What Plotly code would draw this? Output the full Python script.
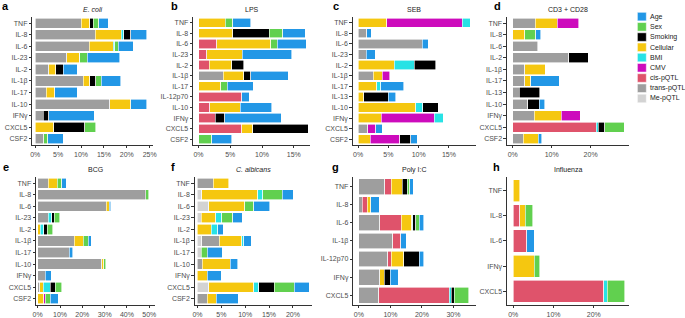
import plotly.graph_objects as go

W, H = 685, 318

FACTORS = ["Me-pQTL", "trans-pQTL", "cis-pQTL", "Cellular", "CMV", "BMI", "Smoking", "Sex", "Age"]
LEGEND_ORDER = ["Age", "Sex", "Smoking", "Cellular", "BMI", "CMV", "cis-pQTL", "trans-pQTL", "Me-pQTL"]
COLORS = {
    "Age": "#2297E6", "Sex": "#61D04F", "Smoking": "#000000", "Cellular": "#F5C710",
    "BMI": "#28E2E5", "CMV": "#CD0BBC", "cis-pQTL": "#DF536B", "trans-pQTL": "#9E9E9E",
    "Me-pQTL": "#D3D3D3",
}

# ---------------- data (percent variance explained) ----------------
ecoli_cats = ["TNF", "IL-8", "IL-6", "IL-23", "IL-2", "IL-1β", "IL-17", "IL-10", "IFNγ", "CXCL5", "CSF2"]
ecoli = {
    "trans-pQTL": [10.1, 13.1, 11.8, 6.9, 2.9, 10.5, 2.4, 16.3, 1.8, 0, 1.9],
    "Cellular":   [1.8, 5.7, 5.2, 2.7, 1.6, 1.4, 1.9, 4.6, 0, 4.0, 0],
    "BMI":        [0, 0.5, 0.4, 0.1, 0, 0, 0, 0, 0, 0, 0],
    "Smoking":    [0.8, 1.6, 0, 0, 1.6, 1.3, 0, 0, 1.1, 6.8, 0],
    "Sex":        [1.2, 0, 0.7, 1.7, 0, 1.2, 0, 0, 0, 2.4, 0.8],
    "Age":        [2.0, 3.4, 3.3, 7.1, 3.1, 4.3, 4.9, 3.5, 10.0, 0, 3.4],
}

lps_cats = ["TNF", "IL-8", "IL-6", "IL-23", "IL-2", "IL-1β", "IL-17", "IL-12p70", "IL-10", "IFNγ", "CXCL5", "CSF2"]
lps = {
    "trans-pQTL": [0, 0, 0, 0, 0, 3.9, 0, 0, 0, 0, 0, 0],
    "cis-pQTL":   [0, 0, 2.9, 1.3, 1.7, 0, 0, 6.8, 1.8, 2.6, 6.8, 0],
    "Cellular":   [4.2, 5.4, 8.5, 5.6, 3.5, 3.2, 3.5, 0, 4.8, 0, 1.7, 0],
    "Smoking":    [0, 5.7, 0, 0, 1.9, 1.1, 0, 0, 0, 1.5, 8.8, 0],
    "Sex":        [1.2, 2.2, 1.0, 0, 0, 0, 1.0, 0, 0, 0, 0, 2.1],
    "Age":        [2.8, 3.5, 4.6, 7.8, 0, 5.9, 4.1, 1.2, 4.9, 8.9, 0, 3.1],
}

seb_cats = ["TNF", "IL-8", "IL-6", "IL-23", "IL-2", "IL-1β", "IL-17", "IL-13", "IL-10", "IFNγ", "CXCL5", "CSF2"]
seb = {
    "trans-pQTL": [0, 1.4, 10.6, 1.3, 0, 2.5, 0, 0, 0, 0, 1.6, 0],
    "Cellular":   [4.7, 0, 0, 0, 6.0, 1.5, 3.1, 0.9, 9.5, 3.8, 0, 2.0],
    "CMV":        [12.5, 0, 0, 0, 0, 1.2, 0, 0, 0, 8.8, 1.3, 4.9],
    "BMI":        [1.3, 0, 0, 0, 3.3, 0, 0.6, 0, 1.2, 1.5, 0, 0],
    "Smoking":    [0, 0, 0, 0, 3.5, 0, 0, 4.1, 2.5, 0, 0, 1.8],
    "Age":        [0, 0.8, 1.0, 1.5, 0, 0, 3.8, 1.2, 0, 0, 1.1, 1.1],
}

cd3_cats = ["TNF", "IL-8", "IL-6", "IL-2", "IL-1β", "IL-17", "IL-13", "IL-10", "IFNγ", "CXCL5", "CSF2"]
cd3 = {
    "trans-pQTL": [5.8, 0, 6.4, 14.4, 3.1, 3.1, 1.7, 3.9, 5.5, 0, 2.7],
    "cis-pQTL":   [0, 0, 0, 0, 0, 0, 0, 0, 0, 21.4, 0],
    "Cellular":   [5.6, 3.1, 0, 0, 5.3, 1.5, 0, 0, 7.0, 0, 3.8],
    "CMV":        [5.5, 0, 0, 0, 0, 0, 0, 0, 4.8, 0, 0],
    "BMI":        [0, 0, 0, 0, 0, 0, 0, 0, 0, 0.6, 0],
    "Smoking":    [0, 0, 0, 5.0, 0, 0, 5.2, 2.9, 0, 1.6, 0],
    "Sex":        [0, 2.8, 0, 0, 0, 0, 0, 0, 0, 5.1, 0],
    "Age":        [0, 1.3, 0, 0, 0, 7.4, 0, 1.4, 0, 0, 0.9],
}

bcg_cats = ["TNF", "IL-8", "IL-6", "IL-23", "IL-2", "IL-1β", "IL-17", "IL-10", "IFNγ", "CXCL5", "CSF2"]
bcg = {
    "trans-pQTL": [4.7, 47.8, 30.8, 4.7, 0, 16.4, 14.1, 28.8, 3.4, 0.9, 0],
    "Cellular":   [4.0, 0, 1.3, 0, 1.2, 4.0, 0, 0.8, 0, 1.5, 2.7],
    "CMV":        [0, 0, 0, 0, 0, 0, 0, 0, 0, 0, 0.7],
    "BMI":        [0, 0, 0, 1.7, 1.6, 0, 0, 0, 0, 3.3, 0],
    "Smoking":    [0, 0.5, 0, 1.0, 1.5, 0, 0, 0, 0, 2.1, 0],
    "Sex":        [2.1, 1.5, 0, 2.5, 2.4, 2.2, 0, 0.9, 0, 2.9, 2.2],
    "Age":        [1.9, 0, 0.7, 0, 0, 1.5, 1.7, 0, 2.7, 0, 3.7],
}

calb_cats = ["TNF", "IL-8", "IL-6", "IL-23", "IL-2", "IL-1β", "IL-17", "IL-10", "IFNγ", "CXCL5", "CSF2"]
calb = {
    "Me-pQTL":    [0, 0.9, 2.4, 0.8, 0, 0.9, 0.8, 0, 0, 2.4, 0],
    "trans-pQTL": [3.3, 0, 0, 0, 0, 3.7, 0, 1.0, 0, 0, 2.0],
    "Cellular":   [3.3, 11.7, 7.5, 3.0, 2.9, 4.7, 0, 5.9, 2.1, 9.4, 1.9],
    "BMI":        [0, 1.1, 0, 1.3, 1.4, 0.4, 0, 0, 0, 1.0, 0],
    "Smoking":    [0, 0, 0, 0, 0, 0, 0, 0, 0, 3.3, 0],
    "Sex":        [0, 4.1, 1.9, 2.3, 0, 0, 1.3, 0, 0, 4.2, 0],
    "Age":        [0, 2.3, 3.4, 2.0, 1.1, 1.6, 3.1, 1.5, 2.9, 3.1, 4.7],
}

polyic_cats = ["TNF", "IL-8", "IL-6", "IL-1β", "IL-12p70", "IFNγ", "CXCL5"]
polyic = {
    "trans-pQTL": [8.2, 1.1, 6.6, 10.8, 9.1, 6.6, 6.3],
    "cis-pQTL":   [2.1, 1.5, 6.9, 2.5, 1.2, 0, 22.4],
    "Cellular":   [3.5, 1.1, 3.3, 0, 4.0, 1.4, 0],
    "BMI":        [0, 0, 0.3, 0, 0, 0, 0.6],
    "Smoking":    [1.6, 0, 0.9, 0, 4.8, 1.9, 1.0],
    "Sex":        [0.7, 0, 1.1, 0, 0, 0, 4.5],
    "Age":        [1.1, 2.7, 1.5, 1.8, 1.4, 2.6, 0],
}

flu_cats = ["TNF", "IL-8", "IL-6", "IFNγ", "CXCL5"]
flu = {
    "cis-pQTL": [0, 1.6, 3.3, 0, 22.5],
    "Cellular": [1.6, 1.4, 0, 5.2, 0],
    "BMI":      [0, 0, 0, 0, 0.8],
    "Sex":      [0, 1.8, 0, 1.4, 4.4],
    "Age":      [0, 0, 1.9, 0, 0],
}

# ---------------- layout of panels (pixels) ----------------
panels = [
    ("a", "<i>E. coli</i>", ecoli_cats, ecoli, (29.5, 151.7, 17, 146), (-0.65, 25.8), 5),
    ("b", "LPS", lps_cats, lps, (191.7, 310, 17, 146), (-0.87, 17.6), 5),
    ("c", "SEB", seb_cats, seb, (352.7, 476.7, 17, 146), (-0.92, 19.4), 5),
    ("d", "CD3 + CD28", cd3_cats, cd3, (508.3, 631.7, 17, 146), (-1.5, 29.9), 10),
    ("e", "BCG", bcg_cats, bcg, (33.3, 153, 178, 307), (-0.75, 52.4), 10),
    ("f", "<i>C. albicans</i>", calb_cats, calb, (193.3, 311.7, 178, 307), (-0.6, 24.0), 5),
    ("g", "Poly I:C", polyic_cats, polyic, (353.3, 476.7, 178, 307), (-1.8, 37.0), 10),
    ("h", "Influenza", flu_cats, flu, (508.3, 631.7, 178, 307), (-1.6, 28.8), 10),
]
letter_pos = {"a": (3, 6), "b": (173.5, 6), "c": (336, 6), "d": (499, 6),
              "e": (3, 168), "f": (172, 168), "g": (335, 168), "h": (498, 168)}

FONT = "Liberation Sans, Arial, sans-serif"
AX = "#333333"
TICKC = "#4D4D4D"

fig = go.Figure()
layout = dict(
    width=W, height=H, autosize=False, margin=dict(l=0, r=0, t=0, b=0),
    paper_bgcolor="white", plot_bgcolor="white", barmode="stack", bargap=0.12,
    showlegend=False, font=dict(family=FONT, size=7, color=TICKC),
)
annotations = []
shapes = []

for i, (letter, title, cats, data, box, xr, dt) in enumerate(panels):
    n = i + 1
    xa = "x" if n == 1 else f"x{n}"
    ya = "y" if n == 1 else f"y{n}"
    l, r, t, b = box
    for f in FACTORS:
        if f not in data:
            continue
        vals = [v if v > 0 else None for v in data[f]]
        fig.add_trace(go.Bar(
            y=cats, x=vals, orientation="h", name=f, xaxis=xa, yaxis=ya,
            marker=dict(color=COLORS[f], line=dict(color="white", width=0.6)),
            hovertemplate=f + ": %{x}%<extra></extra>",
        ))
    ncat = len(cats)
    layout["xaxis" if n == 1 else f"xaxis{n}"] = dict(
        domain=[l / W, r / W], anchor=ya, range=list(xr), dtick=dt, tick0=0,
        ticksuffix="%", showgrid=False, zeroline=False, showline=True,
        linecolor=AX, linewidth=0.8, ticks="outside", ticklen=2.5, tickwidth=0.7,
        tickcolor=AX, tickfont=dict(size=7, color=TICKC, family=FONT),
        fixedrange=True,
    )
    layout["yaxis" if n == 1 else f"yaxis{n}"] = dict(
        domain=[1 - b / H, 1 - t / H], anchor=xa, type="category",
        categoryorder="array", categoryarray=cats,
        range=[ncat - 1 + 0.55, -0.55], showgrid=False, zeroline=False,
        showline=True, linecolor=AX, linewidth=0.8, ticks="outside",
        ticklen=2.5, tickwidth=0.7, tickcolor=AX,
        tickfont=dict(size=7, color=TICKC, family=FONT), fixedrange=True,
    )
    annotations.append(dict(
        text=title, x=(l + r) / 2 / W, y=1 - (t - 7) / H, xref="paper", yref="paper",
        showarrow=False, font=dict(size=7, color="#222222", family=FONT),
        xanchor="center", yanchor="middle",
    ))
    lx, ly = letter_pos[letter]
    annotations.append(dict(
        text=f"<b>{letter}</b>", x=lx / W, y=1 - ly / H, xref="paper", yref="paper",
        showarrow=False, font=dict(size=11, color="black", family=FONT),
        xanchor="center", yanchor="middle",
    ))

# manual legend
for k, name in enumerate(LEGEND_ORDER):
    cy = 16.7 + k * 10.3
    shapes.append(dict(
        type="rect", xref="paper", yref="paper",
        x0=640 / W, x1=649 / W, y0=1 - (cy + 4.3) / H, y1=1 - (cy - 4.3) / H,
        fillcolor=COLORS[name], line=dict(color="white", width=0.5),
    ))
    annotations.append(dict(
        text=name, x=651 / W, y=1 - cy / H, xref="paper", yref="paper",
        showarrow=False, xanchor="left", yanchor="middle",
        font=dict(size=7, color="#222222", family=FONT),
    ))

layout["annotations"] = annotations
layout["shapes"] = shapes
fig.update_layout(**layout)
fig.write_html(
    "out.html",
    config={"displayModeBar": False},
    post_script="document.body.style.margin='0';document.body.style.overflow='hidden';",
)
